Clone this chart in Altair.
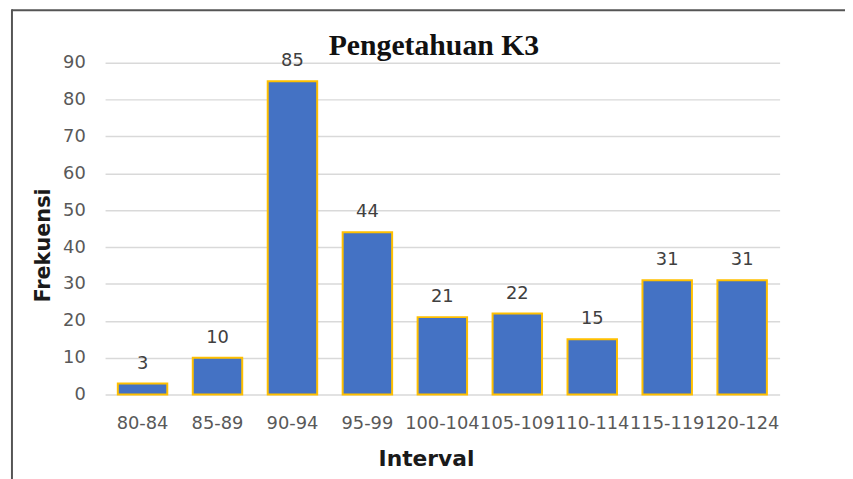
import altair as alt
import pandas as pd

intervals = ["80-84", "85-89", "90-94", "95-99", "100-104", "105-109", "110-114", "115-119", "120-124"]
frekuensi = [3, 10, 85, 44, 21, 22, 15, 31, 31]
y_ticks = [0, 10, 20, 30, 40, 50, 60, 70, 80, 90]
chart_title = "Pengetahuan K3"

df = pd.DataFrame({"Interval": intervals, "Frekuensi": frekuensi})

x_enc = alt.X(
    "Interval:N",
    sort=intervals,
    scale=alt.Scale(paddingInner=0.34, paddingOuter=0.17),
    axis=alt.Axis(
        title="Interval",
        labelAngle=0,
        labelFont="DejaVu Sans",
        labelFontSize=18,
        labelColor="#595959",
        labelPadding=20,
        labelOverlap=False,
        titleFont="DejaVu Sans",
        titleFontSize=22,
        titleFontWeight="bold",
        titleColor="#1a1a1a",
        titlePadding=17,
        titleX=324,
        domain=False,
        ticks=False,
        grid=False,
    ),
)
y_enc = alt.Y(
    "Frekuensi:Q",
    scale=alt.Scale(domain=[0, 90], nice=False),
    axis=alt.Axis(
        title="Frekuensi",
        values=y_ticks,
        labelFont="DejaVu Sans",
        labelFontSize=18,
        labelColor="#595959",
        labelPadding=20,
        labelOverlap=False,
        titleFont="DejaVu Sans",
        titleFontSize=21,
        titleFontWeight="bold",
        titleColor="#1a1a1a",
        titlePadding=9,
        titleY=184,
        domain=False,
        ticks=False,
        grid=True,
        gridColor="#D9D9D9",
        gridWidth=1.5,
    ),
)

bars = alt.Chart(df).mark_bar(
    color="#4472C4", stroke="#FFC000", strokeWidth=2
).encode(x=x_enc, y=y_enc)

labels = alt.Chart(df).mark_text(
    dy=-20, fontSize=18, font="DejaVu Sans", color="#404040"
).encode(x=x_enc, y=y_enc, text="Frekuensi:Q")

one_row = pd.DataFrame({"t": [chart_title]})
title_mark = alt.Chart(one_row).mark_text(
    font="Liberation Serif", fontSize=30, fontWeight="bold", color="#111111",
    align="center", baseline="alphabetic"
).encode(x=alt.value(332), y=alt.value(-8), text="t:N")

top_line = alt.Chart(one_row).mark_rule(color="#555555", strokeWidth=2).encode(
    x=alt.value(-94), x2=alt.value(760), y=alt.value(-53)
)
left_line = alt.Chart(one_row).mark_rule(color="#555555", strokeWidth=2).encode(
    x=alt.value(-94), y=alt.value(-54), y2=alt.value(430)
)

chart = alt.layer(bars, labels, title_mark, top_line, left_line).properties(
    width=681,
    height=335,
    autosize=alt.AutoSizeParams(type="none"),
    padding={"left": 98, "top": 53, "right": 66, "bottom": 83},
).configure(background="white").configure_view(stroke=None)

chart.save("out.html", embed_options={"renderer": "svg", "actions": False})
